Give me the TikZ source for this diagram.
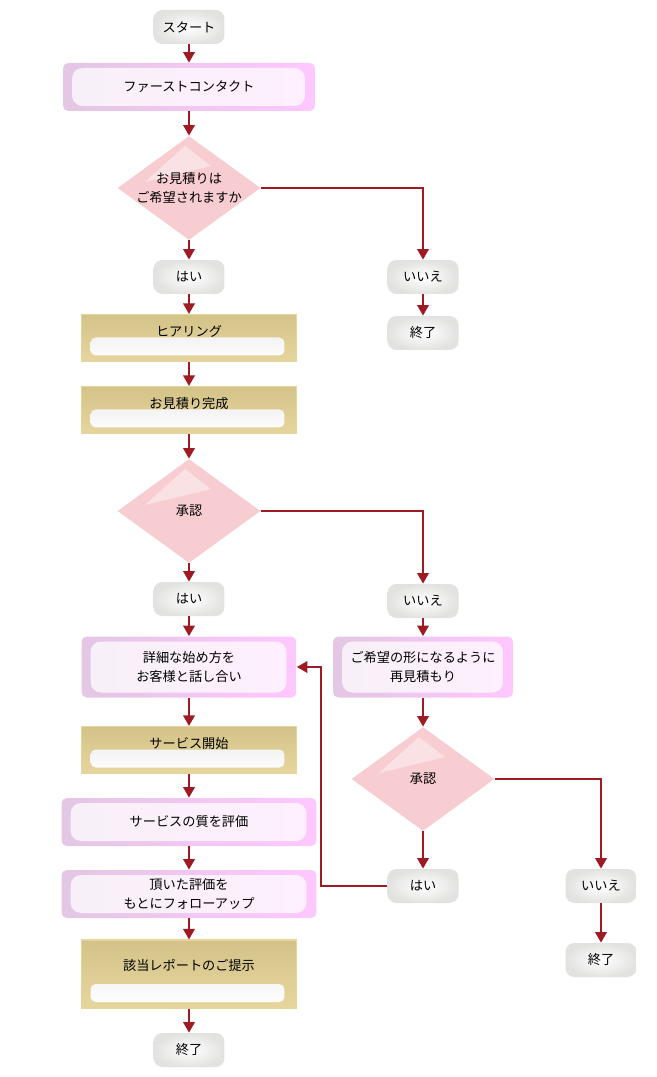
\documentclass[tikz,border=0pt]{standalone}
\usepackage{fontspec}
\setmainfont{Noto Sans CJK JP}
\usetikzlibrary{shapes.geometric,arrows.meta,positioning}
\definecolor{flowred}{RGB}{158,27,36}
\definecolor{pill}{RGB}{226,227,225}
\definecolor{rose}{RGB}{248,205,209}
\definecolor{gold}{RGB}{212,195,136}
\definecolor{goldedge}{RGB}{230,214,158}

\begin{document}
\begin{tikzpicture}[x=0.02cm,y=-0.02cm,%
	font=\fontsize{7.5}{10.8}\selectfont,
	answer/.style={rounded corners=5pt,inner color=white,outer color=pill,minimum width=1.42cm,minimum height=0.68cm,inner sep=0pt},
	marble/.style={rounded corners=3pt,align=center,inner sep=2pt,left color=violet!22!white,middle color=green!10!white,right color=magenta!22!white,
		path picture={\fill[white,opacity=.75,rounded corners=6pt] ([shift={(9,-5)}]path picture bounding box.south west) rectangle ([shift={(-10,5)}]path picture bounding box.north east);}},
	banner/.style={minimum width=4.3cm,minimum height=0.94cm,inner sep=0pt,text height=6.5pt,text depth=8pt,top color=gold,bottom color=goldedge,draw=goldedge,line width=0.6pt,
		path picture={\shade[top color=gray!18,bottom color=white,rounded corners=3pt] ([shift={(9,-24)}]path picture bounding box.south west) rectangle ([shift={(-12,-6)}]path picture bounding box.south east);}},
	ask/.style={diamond,aspect=1.4,fill=rose,minimum width=2.86cm,minimum height=2.08cm,inner sep=-2pt,align=center,
		path picture={\fill[white,opacity=.4] ([shift={(-4,-42)}]path picture bounding box.center) -- ([shift={(22,-22)}]path picture bounding box.center) -- ([shift={(-44,-6)}]path picture bounding box.center) -- cycle;}},
	flow/.style={-{Triangle[width=6.5pt,length=6pt]},draw=flowred,line width=1.2pt}]

	\useasboundingbox (0,0) rectangle (656,1077);

	% short answers and end points
	\foreach \nm/\x/\y/\txt in {%
		start/189/27/スタート, yes1/189/277/はい, no1/423/277/いいえ, end1/423/333/終了,%
		yes2/189/599/はい, no2/423/601/いいえ, yes3/423/886/はい, no3/601/886/いいえ,%
		end2/601/960/終了, end3/189/1050/終了%
		} { \node[answer] (\nm) at (\x,\y) {\txt}; }

	% steps
	\node[marble,minimum width=5.04cm,minimum height=0.96cm] (contact) at (189,87) {ファーストコンタクト};
	\node[ask] (q1) at (189,188) {お見積りは\\ご希望されますか};
	\node[banner] (hear) at (189,338) {ヒアリング};
	\node[banner] (quote) at (189,410) {お見積り完成};
	\node[ask] (q2) at (189,511) {承認};
	\node[marble,minimum width=4.3cm,minimum height=1.22cm] (talk) at (189,667) {詳細な始め方を\\お客様と話し合い};
	\node[marble,minimum width=3.6cm,minimum height=1.22cm] (requote) at (423,667) {ご希望の形になるように\\再見積もり};
	\node[ask] (q3) at (423,779) {承認};
	\node[banner] (launch) at (189,750) {サービス開始};
	\node[marble,minimum width=5.1cm,minimum height=0.96cm] (rate) at (189,822) {サービスの質を評価};
	\node[marble,minimum width=5.1cm,minimum height=0.96cm] (follow) at (189,894) {頂いた評価を\\もとにフォローアップ};
	\node[banner,minimum height=1.36cm,text depth=10pt] (report) at (189,974) {該当レポートのご提示};

	% connectors
	\foreach \a/\b in {start/contact, contact/q1, q1/yes1, yes1/hear, hear/quote, quote/q2,%
		q2/yes2, yes2/talk, talk/launch, launch/rate, rate/follow, follow/report, report/end3,%
		no1/end1, no2/requote, requote/q3, q3/yes3, no3/end2}
		\draw[flow] (\a) -- (\b);
	\draw[flow] (q1.east) -| (no1);
	\draw[flow] (q2.east) -| (no2);
	\draw[flow] (q3.east) -| (no3);
	\coordinate (back) at (321,886);
	\draw[flow] (yes3.west) -- (back) |- (talk.east);

\end{tikzpicture}
\end{document}
